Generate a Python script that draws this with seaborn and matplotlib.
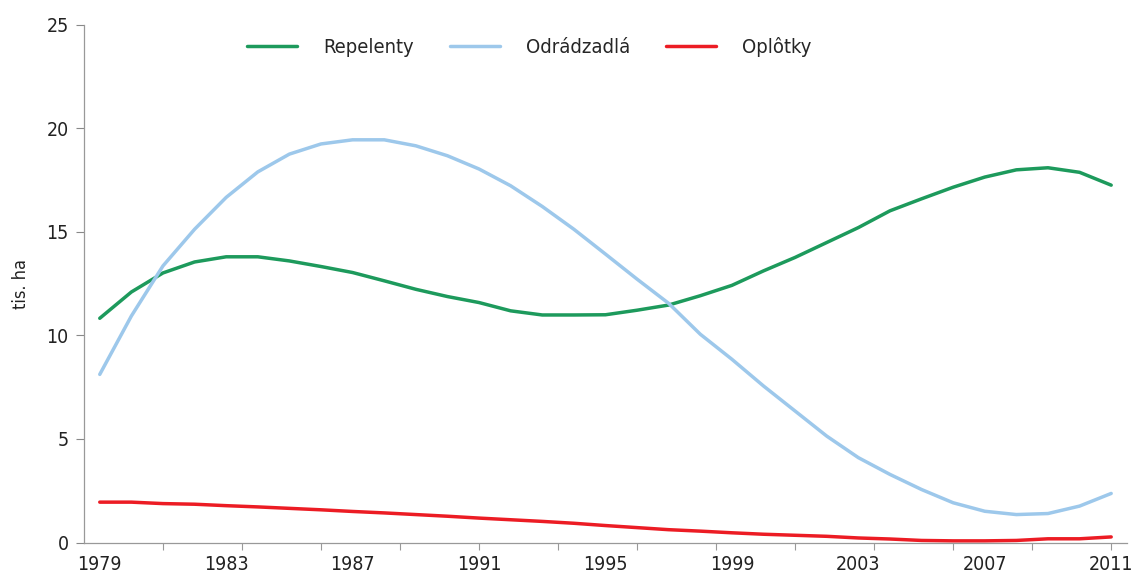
import numpy as np
import pandas as pd
import matplotlib
matplotlib.use("Agg")
import matplotlib.pyplot as plt
from matplotlib.ticker import FixedLocator
import seaborn as sns

# Hodnoty odčítané z grafu (tis. ha)
roky = list(range(1979, 2012))
repelenty = [10.83, 12.1, 13.02, 13.55, 13.8, 13.8, 13.6, 13.33, 13.04, 12.64,
             12.23, 11.88, 11.59, 11.19, 10.99, 10.99, 11.0, 11.22, 11.47, 11.92,
             12.42, 13.12, 13.77, 14.49, 15.21, 16.02, 16.6, 17.16, 17.65, 18.0,
             18.1, 17.88, 17.26]
odradzadla = [8.12, 10.94, 13.36, 15.13, 16.67, 17.9, 18.76, 19.25, 19.45, 19.45,
              19.16, 18.68, 18.04, 17.23, 16.23, 15.13, 13.93, 12.72, 11.55, 10.06,
              8.85, 7.56, 6.35, 5.14, 4.1, 3.29, 2.56, 1.92, 1.51, 1.35,
              1.4, 1.76, 2.37]
oplotky = [1.95, 1.95, 1.88, 1.85, 1.78, 1.72, 1.65, 1.58, 1.5, 1.43,
           1.35, 1.27, 1.18, 1.1, 1.02, 0.93, 0.82, 0.72, 0.62, 0.55,
           0.47, 0.4, 0.35, 0.3, 0.22, 0.17, 0.1, 0.08, 0.08, 0.1,
           0.18, 0.18, 0.27]

nazvy = ["Repelenty", "Odrádzadlá", "Oplôtky"]
farby = ["#1d9a5c", "#9dc8eb", "#ec1c24"]

data = pd.DataFrame({"rok": roky, "Repelenty": repelenty,
                     "Odrádzadlá": odradzadla, "Oplôtky": oplotky})
dlhe = data.melt(id_vars="rok", var_name="typ", value_name="hodnota")

sns.set_style("white")
plt.rcParams["font.family"] = ["DejaVu Sans"]
plt.rcParams["font.stretch"] = "condensed"

fig = plt.figure(figsize=(11.33, 5.79), dpi=100)
ax = fig.add_axes([0.0741, 0.063, 0.9206, 0.894])

sns.lineplot(data=dlhe, x="rok", y="hodnota", hue="typ", hue_order=nazvy,
             palette=farby, linewidth=2.5, ax=ax)

ax.set_xlim(1978.5, 2011.5)
ax.set_ylim(0, 25)
ax.set_yticks([0, 5, 10, 15, 20, 25])
ax.set_xticks(list(range(1979, 2012, 4)))
ax.xaxis.set_minor_locator(FixedLocator(list(np.arange(1981, 2011.1, 2.5))))
ax.xaxis.remove_overlapping_locs = False

ax.tick_params(axis="x", which="major", length=0, pad=9, labelsize=14, labelcolor="#222222")
ax.tick_params(axis="x", which="minor", length=5, width=0.8, color="#999999", bottom=True)
ax.tick_params(axis="y", length=6, width=0.8, color="#888888", left=True, labelsize=14,
               labelcolor="#222222", pad=5)

for s in ["top", "right"]:
    ax.spines[s].set_visible(False)
for s in ["left", "bottom"]:
    ax.spines[s].set_color("#999999")
    ax.spines[s].set_linewidth(0.9)

ax.set_xlabel("")
ax.set_ylabel("tis. ha", fontsize=13, color="#222222", labelpad=12)

ax.legend(title=None, ncol=3, frameon=False, fontsize=14.5,
          loc="center left", bbox_to_anchor=(247 / 1133, 1 - 47 / 579),
          bbox_transform=fig.transFigure, borderpad=0, borderaxespad=0,
          handlelength=2.5, handletextpad=1.3, columnspacing=1.75)

fig.savefig("out.png", dpi=100)
